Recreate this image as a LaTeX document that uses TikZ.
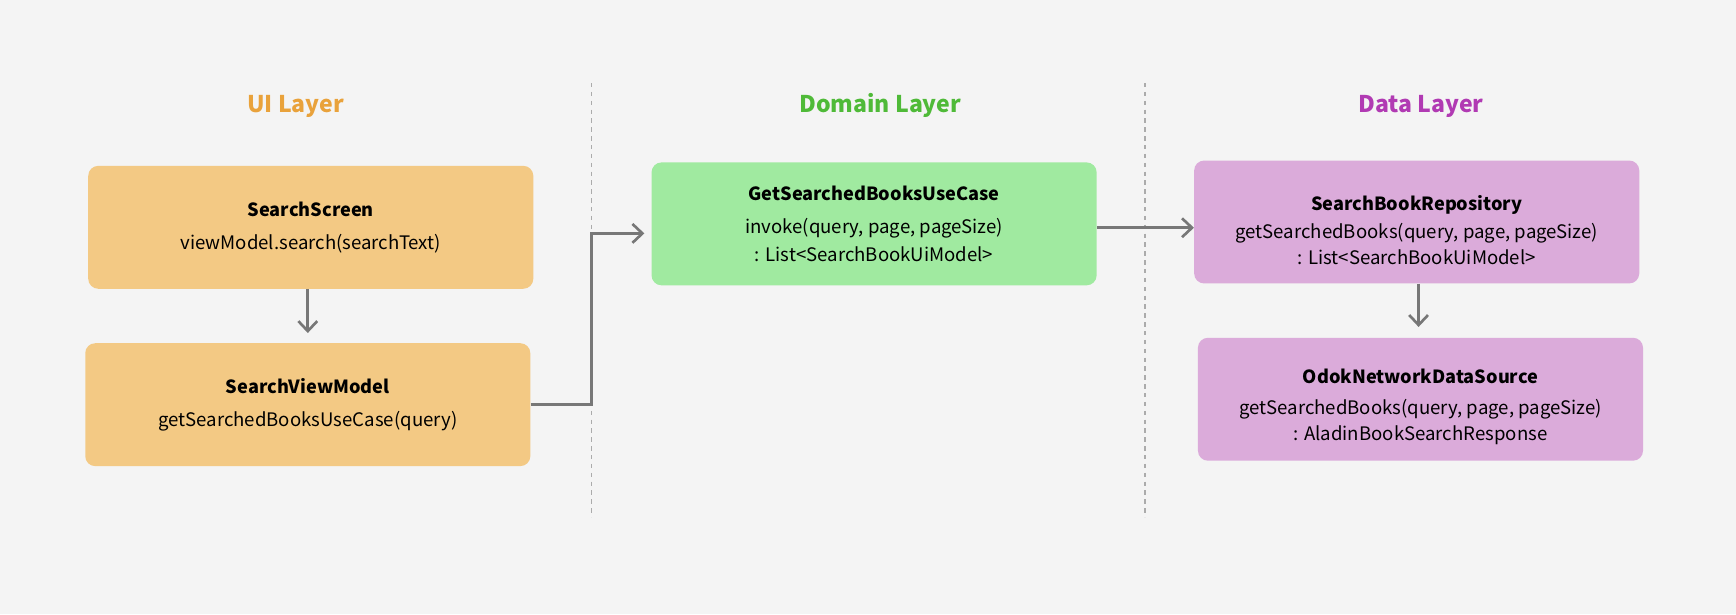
\documentclass[tikz,border=0pt]{standalone}
\usepackage{fontspec}
\setmainfont{Noto Sans CJK KR}
\usetikzlibrary{arrows.meta}
\definecolor{bg}{HTML}{F4F4F4}
\definecolor{uibox}{HTML}{F3C984}
\definecolor{dombox}{HTML}{A0EAA0}
\definecolor{databox}{HTML}{DBABDA}
\definecolor{uititle}{HTML}{E9A23B}
\definecolor{domtitle}{HTML}{4FBA38}
\definecolor{datatitle}{HTML}{B13AB3}
\definecolor{arrgray}{HTML}{777777}
\definecolor{divgray}{HTML}{ABABAB}
\newcommand\boxhead[1]{{\fontsize{16.4}{25}\selectfont\bfseries #1}}
\begin{document}
\begin{tikzpicture}[x=1pt,y=-1pt,
  box/.style={draw=none, rounded corners=9pt, minimum width=402pt, minimum height=111pt, inner sep=0pt},
  txt/.style={anchor=base, align=center, inner sep=0pt, text=black, font=\fontsize{16.8}{25}\selectfont},
  title/.style={anchor=base, inner sep=0pt, font=\fontsize{20.8}{26}\selectfont\bfseries},
  arr/.style={draw=arrgray, line width=2.4pt, -{Straight Barb[length=9pt,width=17pt]}},
  divider/.style={draw=divgray, line width=1.3pt, dash pattern=on 4pt off 4pt}]
\fill[bg] (0,0) rectangle (1568,555);
\useasboundingbox (0,0) rectangle (1568,555);

% dividers
\coordinate (d1t) at (534.5,75);
\coordinate (d1b) at (534.5,467);
\coordinate (d2t) at (1034.3,75);
\coordinate (d2b) at (1034.3,467);
\draw[divider] (d1t) -- (d1b);
\draw[divider] (d2t) -- (d2b);

% titles
\node[title, text=uititle] (uiL) at (267,101.5) {UI Layer};
\node[title, text=domtitle] (domL) at (795,101.5) {Domain Layer};
\node[title, text=datatitle] (dataL) at (1283.6,101.5) {Data Layer};

% boxes
\node[box, fill=uibox] (ss) at (280.7,205.3) {};
\node[box, fill=uibox] (svm) at (278,365.5) {};
\node[box, fill=dombox] (uc) at (789.5,202.2) {};
\node[box, fill=databox] (repo) at (1279.6,200.5) {};
\node[box, fill=databox] (ds) at (1283,360.6) {};

% texts (anchored at the baseline of the last line)
\node[txt] (sst) at (280.7,225.2) {\boxhead{SearchScreen}\\[5pt]viewModel.search(searchText)};
\node[txt] (svmt) at (278,385.4) {\boxhead{SearchViewModel}\\[5pt]getSearchedBooksUseCase(query)};
\node[txt] (uct) at (789.5,235.8) {\boxhead{GetSearchedBooksUseCase}\\[5pt]invoke(query, page, pageSize)\\: List<SearchBookUiModel>};
\node[txt] (repot) at (1279.6,238.5) {\boxhead{SearchBookRepository}\\[0pt]getSearchedBooks(query, page, pageSize)\\[-2pt]: List<SearchBookUiModel>};
\node[txt] (dst) at (1283,398.1) {\boxhead{OdokNetworkDataSource}\\[2.7pt]getSearchedBooks(query, page, pageSize)\\[-1pt]: AladinBookSearchResponse};

% connectors
\coordinate (j) at (534.5,210.8);
\draw[arr] (ss.south -| svm.north) -- ([yshift=9pt]svm.north);
\draw[arr] (svm.east) -| (j) -- ([xshift=-6.3pt]uc.west |- j);
\draw[arr] ([yshift=-3.5pt]uc.east) -- ([yshift=-3.5pt]uc.east -| repo.west);
\draw[arr] ([xshift=1.7pt]repo.south) -- ([xshift=-1.7pt,yshift=9.6pt]ds.north);
\end{tikzpicture}
\end{document}
